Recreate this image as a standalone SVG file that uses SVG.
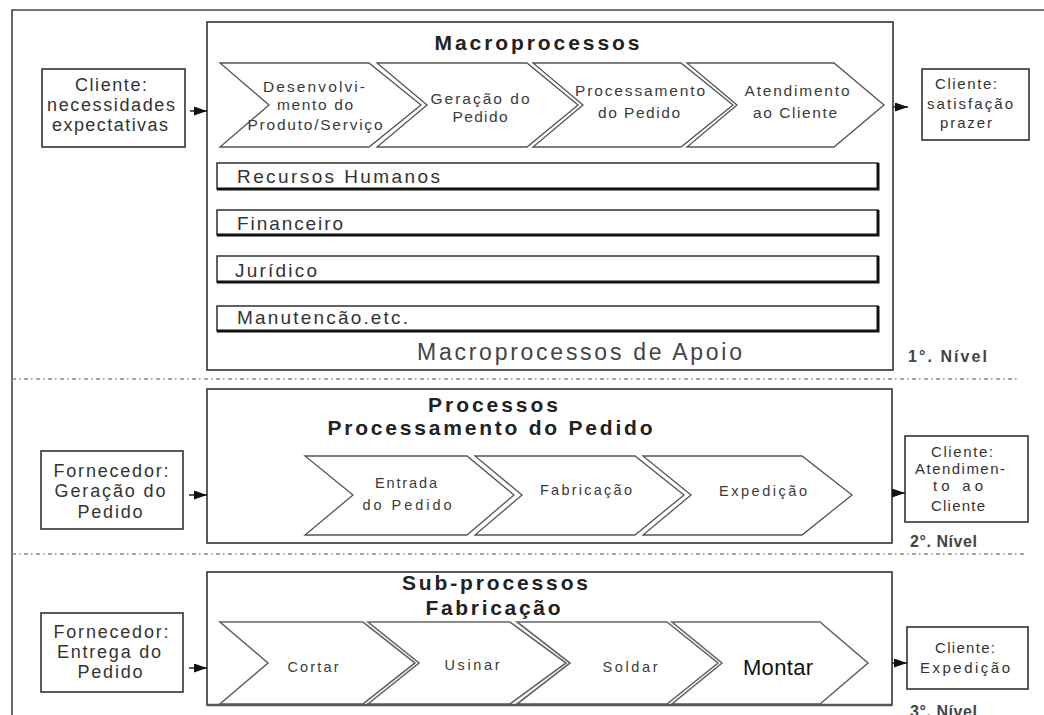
<svg xmlns="http://www.w3.org/2000/svg" width="1044" height="715" viewBox="0 0 1044 715">
  <style>
    .frame { fill: none; stroke: #444; stroke-width: 1.6; }
    .box { fill: #fff; stroke: #333; stroke-width: 1.6; }
    .chev { fill: #fff; stroke: #555; stroke-width: 1.3; stroke-linejoin: miter; }
    .chev3 { fill: #fff; stroke: #666; stroke-width: 1.6; stroke-linejoin: miter; }
    .bar { fill: #fff; stroke: #222; stroke-width: 1.4; }
    .barshade { fill: none; stroke: #111; stroke-width: 3; }
    .sep { stroke: #888; stroke-width: 1.6; stroke-dasharray: 4 3 1.5 3.5; fill: none; }
    .link { stroke: #222; stroke-width: 1.5; fill: none; marker-end: url(#ah); }
    text { font-family: "Liberation Sans", Arial, sans-serif; fill: #333; }
    .bx { font-size: 18px; text-anchor: middle; }
    .rb { font-size: 15px; text-anchor: middle; }
    .ct { font-size: 15.5px; text-anchor: middle; fill: #3a3a3a; }
    .ct2 { font-size: 14.5px; text-anchor: middle; fill: #3a3a3a; }
    .ttl { font-size: 21px; font-weight: bold; text-anchor: middle; fill: #222; }
    .barlbl { font-size: 19px; fill: #333; }
    .apoio { font-size: 23px; fill: #444; }
    .montar { font-size: 22px; text-anchor: middle; fill: #111; }
    .lvl { font-size: 16px; font-weight: bold; fill: #444; }
  </style>
  <defs>
    <marker id="ah" markerWidth="13" markerHeight="9" refX="13" refY="4.5" orient="auto" markerUnits="userSpaceOnUse">
      <path d="M0,0 L13,4.5 L0,9 z" fill="#111"/>
    </marker>
  </defs>

  <!-- outer frame (top and left edges) -->
  <path class="frame" d="M1044,10 H12 V715"/>

  <!-- level separators -->
  <line class="sep" x1="12" y1="379" x2="1017" y2="379"/>
  <line class="sep" x1="12" y1="554" x2="1027" y2="554"/>

  <!-- ===== Level 1 ===== -->
  <g id="macro-box">
    <rect class="box" x="207" y="22" width="686" height="348"/>
    <text class="ttl" x="537" y="50" textLength="205">Macroprocessos</text>
    <text class="apoio" x="417" y="360" textLength="325">Macroprocessos de Apoio</text>
  </g>

  <g id="chev-desenvolvimento">
    <path class="chev" d="M220,63 H369 L421,105 L369,147 H220 L269,105 Z"/>
    <text class="ct" x="314" y="92" textLength="102">Desenvolvi-</text>
    <text class="ct" x="315" y="110" textLength="76">mento do</text>
    <text class="ct" x="315" y="130" textLength="135">Produto/Serviço</text>
  </g>
  <g id="chev-geracao">
    <path class="chev" d="M377,63 H527 L578,105 L527,147 H377 L427,105 Z"/>
    <text class="ct" x="480" y="104" textLength="99">Geração do</text>
    <text class="ct" x="480" y="122" textLength="55">Pedido</text>
  </g>
  <g id="chev-processamento">
    <path class="chev" d="M533,63 H681 L733,105 L681,147 H533 L583,105 Z"/>
    <text class="ct" x="640" y="96" textLength="130">Processamento</text>
    <text class="ct" x="639" y="118" textLength="82">do Pedido</text>
  </g>
  <g id="chev-atendimento">
    <path class="chev" d="M687,63 H834 L884,105 L834,147 H687 L737,105 Z"/>
    <text class="ct" x="797" y="96" textLength="105">Atendimento</text>
    <text class="ct" x="795" y="118" textLength="84">ao Cliente</text>
  </g>

  <g id="bar-rh">
    <rect class="bar" x="217" y="163" width="661" height="26"/>
    <path class="barshade" d="M217,189 H878 V163"/>
    <text class="barlbl" x="237" y="183" textLength="203">Recursos Humanos</text>
  </g>
  <g id="bar-financeiro">
    <rect class="bar" x="217" y="210" width="661" height="25"/>
    <path class="barshade" d="M217,235 H878 V210"/>
    <text class="barlbl" x="237" y="230" textLength="106">Financeiro</text>
  </g>
  <g id="bar-juridico">
    <rect class="bar" x="217" y="256" width="661" height="26"/>
    <path class="barshade" d="M217,282 H878 V256"/>
    <text class="barlbl" x="235" y="277" textLength="82">Jurídico</text>
  </g>
  <g id="bar-manutencao">
    <rect class="bar" x="217" y="306" width="661" height="25"/>
    <path class="barshade" d="M217,331 H878 V306"/>
    <text class="barlbl" x="237" y="324" textLength="171">Manutencão.etc.</text>
  </g>

  <g id="cliente-entrada-1">
    <rect class="box" x="42" y="69" width="143" height="78"/>
    <text class="bx" x="111" y="91" textLength="72">Cliente:</text>
    <text class="bx" x="111" y="111" textLength="128">necessidades</text>
    <text class="bx" x="110" y="131" textLength="116">expectativas</text>
  </g>
  <g id="cliente-saida-1">
    <rect class="box" x="922" y="69" width="107" height="71"/>
    <text class="rb" x="966" y="89" textLength="62">Cliente:</text>
    <text class="rb" x="970" y="109" textLength="86">satisfação</text>
    <text class="rb" x="966" y="128" textLength="52">prazer</text>
  </g>
  <text class="lvl" x="908" y="362" textLength="79">1°. Nível</text>

  <!-- ===== Level 2 ===== -->
  <g id="processos-box">
    <rect class="box" x="207" y="389" width="685" height="154"/>
    <text class="ttl" x="493" y="412" textLength="130">Processos</text>
    <text class="ttl" x="490" y="435" textLength="325">Processamento do Pedido</text>
  </g>
  <g id="chev-entrada">
    <path class="chev" d="M305,456 H467 L514,495 L467,535 H305 L353,495 Z"/>
    <text class="ct2" x="406" y="488" textLength="62">Entrada</text>
    <text class="ct2" x="407" y="510" textLength="89">do Pedido</text>
  </g>
  <g id="chev-fabricacao">
    <path class="chev" d="M475,456 H635 L684,495 L635,535 H475 L522,495 Z"/>
    <text class="ct2" x="586" y="495" textLength="92">Fabricação</text>
  </g>
  <g id="chev-expedicao">
    <path class="chev" d="M643,456 H802 L852,495 L802,535 H643 L691,495 Z"/>
    <text class="ct2" x="763" y="496" textLength="88">Expedição</text>
  </g>
  <g id="fornecedor-2">
    <rect class="box" x="41" y="451" width="142" height="78"/>
    <text class="bx" x="111" y="477" textLength="115">Fornecedor:</text>
    <text class="bx" x="110" y="497" textLength="111">Geração do</text>
    <text class="bx" x="110" y="518" textLength="65">Pedido</text>
  </g>
  <g id="cliente-2">
    <rect class="box" x="905" y="436" width="123" height="86"/>
    <text class="rb" x="962" y="457" textLength="62">Cliente:</text>
    <text class="rb" x="960" y="474" textLength="90">Atendimen-</text>
    <text class="rb" x="958" y="491" textLength="50">to ao</text>
    <text class="rb" x="958" y="511" textLength="54">Cliente</text>
  </g>
  <text class="lvl" x="910" y="547" textLength="67">2°. Nível</text>

  <!-- ===== Level 3 ===== -->
  <g id="subprocessos-box">
    <rect class="box" x="207" y="572" width="685" height="133"/>
    <text class="ttl" x="495" y="590" textLength="186">Sub-processos</text>
    <text class="ttl" x="493" y="615" textLength="135">Fabricação</text>
  </g>
  <g id="chev-cortar">
    <path class="chev3" d="M220,622 H363 L415,663 L363,704 H220 L268,663 Z"/>
    <text class="ct2" x="313" y="672" textLength="51">Cortar</text>
  </g>
  <g id="chev-usinar">
    <path class="chev3" d="M368,622 H510 L566,663 L510,704 H368 L419,663 Z"/>
    <text class="ct2" x="472" y="670" textLength="55">Usinar</text>
  </g>
  <g id="chev-soldar">
    <path class="chev3" d="M517,622 H667 L718,663 L667,704 H517 L570,663 Z"/>
    <text class="ct2" x="630" y="672" textLength="55">Soldar</text>
  </g>
  <g id="chev-montar">
    <path class="chev3" d="M672,622 H820 L868,663 L820,704 H672 L722,663 Z"/>
    <text class="montar" x="778" y="675" textLength="70">Montar</text>
  </g>
  <line x1="207" y1="705" x2="892" y2="705" stroke="#555" stroke-width="2.5"/>
  <g id="fornecedor-3">
    <rect class="box" x="41" y="613" width="142" height="79"/>
    <text class="bx" x="111" y="638" textLength="115">Fornecedor:</text>
    <text class="bx" x="109" y="658" textLength="104">Entrega do</text>
    <text class="bx" x="110" y="678" textLength="65">Pedido</text>
  </g>
  <g id="cliente-3">
    <rect class="box" x="907" y="627" width="121" height="62"/>
    <text class="rb" x="965" y="653" textLength="60">Cliente:</text>
    <text class="rb" x="965" y="673" textLength="90">Expedição</text>
  </g>
  <text class="lvl" x="910" y="717" textLength="67">3°. Nível</text>

  <!-- connectors -->
  <g id="connectors">
    <line class="link" x1="190" y1="111" x2="207" y2="111"/>
    <line class="link" x1="893" y1="107" x2="908" y2="107"/>
    <line class="link" x1="189" y1="495" x2="207" y2="495"/>
    <line class="link" x1="892" y1="493" x2="905" y2="493"/>
    <line class="link" x1="189" y1="668" x2="207" y2="668"/>
    <line class="link" x1="892" y1="663" x2="907" y2="663"/>
  </g>
</svg>
